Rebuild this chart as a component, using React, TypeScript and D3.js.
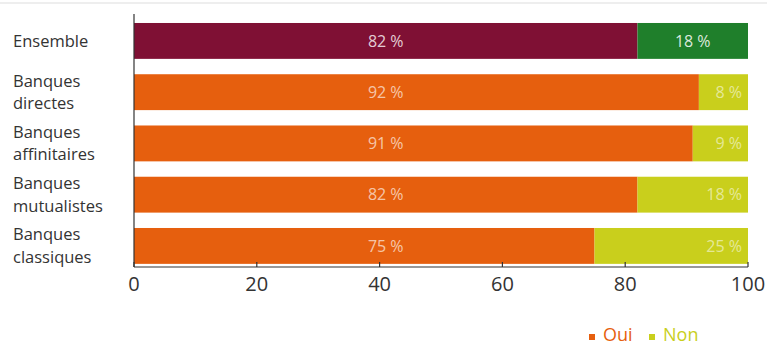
import React from "react";
import * as d3 from "d3";

const categories: string[][] = [
  ["Ensemble"],
  ["Banques", "directes"],
  ["Banques", "affinitaires"],
  ["Banques", "mutualistes"],
  ["Banques", "classiques"],
];
const oui = [82, 92, 91, 82, 75];
const non = [18, 8, 9, 18, 25];
const ticks = [0, 20, 40, 60, 80, 100];

const W = 767;
const H = 345;
const font = "'Open Sans', 'Noto Sans', sans-serif";

export default function App() {
  const x = d3.scaleLinear().domain([0, 100]).range([134, 748]);
  const keys = categories.map((c) => c.join(" "));
  const y = d3
    .scaleBand<string>()
    .domain(keys)
    .range([15.3, 271.55])
    .paddingInner(0.3)
    .paddingOuter(0.15);
  const bh = y.bandwidth();
  const ouiColor = (i: number) => (i === 0 ? "#7f1034" : "#e65f0e");
  const nonColor = (i: number) => (i === 0 ? "#1f7f2b" : "#c9cf1c");
  const ouiLabelX = x(oui[0] / 2);

  return (
    <svg
      width={W}
      height={H}
      style={{ position: "absolute", left: 0, top: 0, background: "#fff" }}
      fontFamily={font}
    >
      <line x1={0} x2={W} y1={3} y2={3} stroke="#eeeeee" strokeWidth={2} />
      {keys.map((k, i) => {
        const y0 = y(k)!;
        const cy = y0 + bh / 2;
        const lines = categories[i];
        return (
          <g key={k}>
            <rect x={x(0)} y={y0} width={x(oui[i]) - x(0)} height={bh} fill={ouiColor(i)} />
            <rect x={x(oui[i])} y={y0} width={x(100) - x(oui[i])} height={bh} fill={nonColor(i)} />
            <text
              x={ouiLabelX}
              y={cy}
              dy="0.35em"
              textAnchor="middle"
              fontSize={16}
              fill="#fff"
              fillOpacity={i === 0 ? 0.8 : 0.65}
            >
              {oui[i]} %
            </text>
            <text
              x={i === 0 ? (x(oui[i]) + x(100)) / 2 : x(100) - 6}
              y={cy}
              dy="0.35em"
              textAnchor={i === 0 ? "middle" : "end"}
              fontSize={16}
              fill="#fff"
              fillOpacity={i === 0 ? 0.85 : 0.55}
            >
              {non[i]} %
            </text>
            {lines.map((l, j) => (
              <text
                key={j}
                x={13}
                y={cy + (j - (lines.length - 1) / 2) * 22.5}
                dy="0.35em"
                fontSize={16.5}
                fill="#333"
              >
                {l}
              </text>
            ))}
          </g>
        );
      })}
      <line x1={x(0)} x2={x(0)} y1={14} y2={267} stroke="#333" strokeWidth={1.2} />
      <line x1={x(0)} x2={x(100)} y1={267} y2={267} stroke="#333" strokeWidth={1.2} />
      {ticks.map((t) => (
        <g key={t}>
          <line x1={x(t)} x2={x(t)} y1={262} y2={267} stroke="#333" strokeWidth={1.2} />
          <text x={x(t)} y={291} textAnchor="middle" fontSize={20} fill="#333">
            {t}
          </text>
        </g>
      ))}
      <rect x={589} y={334} width={6} height={6} fill="#e65f0e" />
      <text x={603} y={341} fontSize={18} fill="#e65f0e">
        Oui
      </text>
      <rect x={649} y={334} width={6} height={6} fill="#c9cf1c" />
      <text x={663} y={341} fontSize={18} fill="#c9cf1c">
        Non
      </text>
    </svg>
  );
}
